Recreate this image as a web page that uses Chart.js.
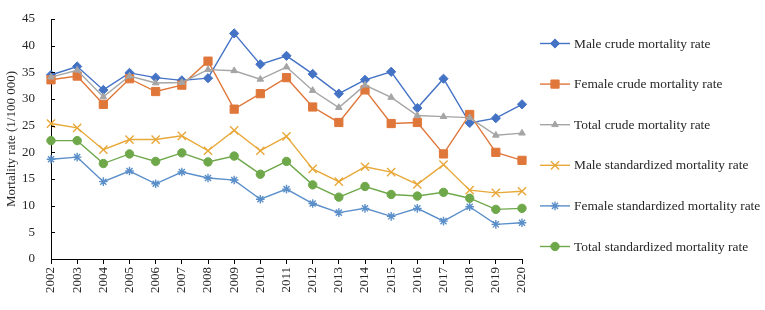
<!DOCTYPE html>
<html>
<head>
<meta charset="utf-8">
<script src="https://cdn.jsdelivr.net/npm/chart.js@4/dist/chart.umd.min.js"></script>
<style>
  html, body { margin: 0; padding: 0; background: #fff; }
  #wrap { width: 765px; height: 310px; position: relative; }
</style>
</head>
<body>
<div id="wrap"><canvas id="chart"></canvas></div>
<script>
const years = ["2002", "2003", "2004", "2005", "2006", "2007", "2008", "2009", "2010", "2011",
  "2012", "2013", "2014", "2015", "2016", "2017", "2018", "2019", "2020"];

const maleCrude = [34.5, 36.1, 31.7, 34.9, 34.0, 33.5, 33.9, 42.3, 36.5, 38.1, 34.7, 31.0, 33.6, 35.1, 28.3, 33.8, 25.5, 26.4, 29.0];
const femaleCrude = [33.6, 34.3, 29.0, 33.8, 31.4, 32.6, 37.1, 28.1, 31.0, 34.0, 28.5, 25.6, 31.7, 25.4, 25.6, 19.7, 27.1, 20.0, 18.5];
const totalCrude = [34.1, 35.4, 30.4, 34.3, 33.0, 33.1, 35.5, 35.3, 33.7, 36.0, 31.6, 28.4, 32.6, 30.3, 26.9, 26.7, 26.5, 23.2, 23.6];
const maleStd = [25.4, 24.6, 20.5, 22.4, 22.4, 23.1, 20.3, 24.1, 20.3, 23.0, 16.9, 14.5, 17.3, 16.3, 14.0, 17.7, 12.9, 12.4, 12.7];
const femaleStd = [18.7, 19.1, 14.5, 16.5, 14.1, 16.3, 15.2, 14.8, 11.2, 13.1, 10.4, 8.7, 9.5, 8.0, 9.5, 7.1, 9.8, 6.5, 6.8];
const totalStd = [22.2, 22.2, 17.9, 19.7, 18.3, 19.9, 18.2, 19.3, 15.9, 18.3, 13.9, 11.6, 13.6, 12.1, 11.8, 12.5, 11.4, 9.3, 9.5];

const seriesNames = [
  "Male crude mortality rate",
  "Female crude mortality rate",
  "Total crude mortality rate",
  "Male standardized mortality rate",
  "Female standardized mortality rate",
  "Total standardized mortality rate",
];

const fontFamily = '"Liberation Serif", "Times New Roman", serif';
const textColor = "#262626";

function series(i, data, color, style, radius, bw) {
  return {
    label: seriesNames[i],
    data: data,
    borderColor: color,
    backgroundColor: color,
    borderWidth: 1.4,
    pointStyle: style,
    pointRadius: radius,
    pointBorderWidth: bw,
    pointBackgroundColor: color,
    pointBorderColor: color,
    tension: 0,
    order: 5 - i,
  };
}

const datasets = [
  series(0, maleCrude, "#4472C4", "rectRot", 4.6, 1),
  series(1, femaleCrude, "#E0773A", "rect", 5.8, 1),
  series(2, totalCrude, "#A5A5A5", "triangle", 3.8, 1),
  series(3, maleStd, "#E8A83A", "crossRot", 5.8, 1.4),
  series(4, femaleStd, "#5B8FC9", "star", 4.3, 1.4),
  series(5, totalStd, "#6FA84A", "circle", 4.2, 1),
];

// y ticks point into the plot, so draw them by hand
const innerTicks = {
  id: "innerTicks",
  afterDraw(chart) {
    const ctx = chart.ctx;
    const y = chart.scales.y;
    const left = chart.chartArea.left;
    ctx.save();
    ctx.strokeStyle = "#000";
    ctx.lineWidth = 1;
    ctx.beginPath();
    y.ticks.forEach((t) => {
      const py = Math.round(y.getPixelForValue(t.value)) + 0.5;
      ctx.moveTo(left, py);
      ctx.lineTo(left + 4, py);
    });
    ctx.stroke();
    ctx.restore();
  },
};

// legend on the right: line sample with marker, then the name
const sideLegend = {
  id: "sideLegend",
  afterDraw(chart) {
    const ctx = chart.ctx;
    ctx.save();
    chart.data.datasets.forEach((ds, i) => {
      const y = 43.5 + i * 40.6;
      ctx.strokeStyle = ds.borderColor;
      ctx.lineWidth = 1.4;
      ctx.beginPath();
      ctx.moveTo(540, y);
      ctx.lineTo(570, y);
      ctx.stroke();
      ctx.fillStyle = ds.pointBackgroundColor;
      ctx.strokeStyle = ds.pointBorderColor;
      ctx.lineWidth = ds.pointBorderWidth;
      Chart.helpers.drawPoint(ctx, {
        pointStyle: ds.pointStyle,
        radius: ds.pointRadius,
        rotation: 0,
        borderWidth: ds.pointBorderWidth,
      }, 555, y);
      ctx.fillStyle = textColor;
      ctx.font = "13.4px " + fontFamily;
      ctx.textBaseline = "middle";
      ctx.textAlign = "left";
      ctx.fillText(ds.label, 574, y + 0.5);
    });
    ctx.restore();
  },
};

new Chart(document.getElementById("chart"), {
  type: "line",
  data: { labels: years, datasets: datasets },
  options: {
    responsive: true,
    maintainAspectRatio: false,
    animation: false,
    layout: { padding: { top: 19, right: 243, left: 0, bottom: 0 } },
    plugins: {
      legend: { display: false },
      tooltip: { enabled: false },
    },
    scales: {
      x: {
        offset: false,
        grid: { display: true, drawOnChartArea: false, tickLength: 5, color: "#000" },
        border: { color: "#000", width: 1 },
        ticks: {
          color: textColor,
          font: { family: fontFamily, size: 13 },
          minRotation: 90,
          maxRotation: 90,
          autoSkip: false,
          padding: 3,
        },
        afterFit(scale) { scale.height = 51; },
      },
      y: {
        min: 0,
        max: 45,
        grid: { display: false },
        border: { color: "#000", width: 1 },
        ticks: {
          stepSize: 5,
          color: textColor,
          font: { family: fontFamily, size: 13 },
          padding: 8,
        },
        title: {
          display: true,
          text: "Mortality rate (1/100 000)",
          color: textColor,
          font: { family: fontFamily, size: 13 },
          padding: { top: 4, bottom: 0 },
        },
        afterFit(scale) { scale.width = 51; },
      },
    },
  },
  plugins: [innerTicks, sideLegend],
});
</script>
</body>
</html>
